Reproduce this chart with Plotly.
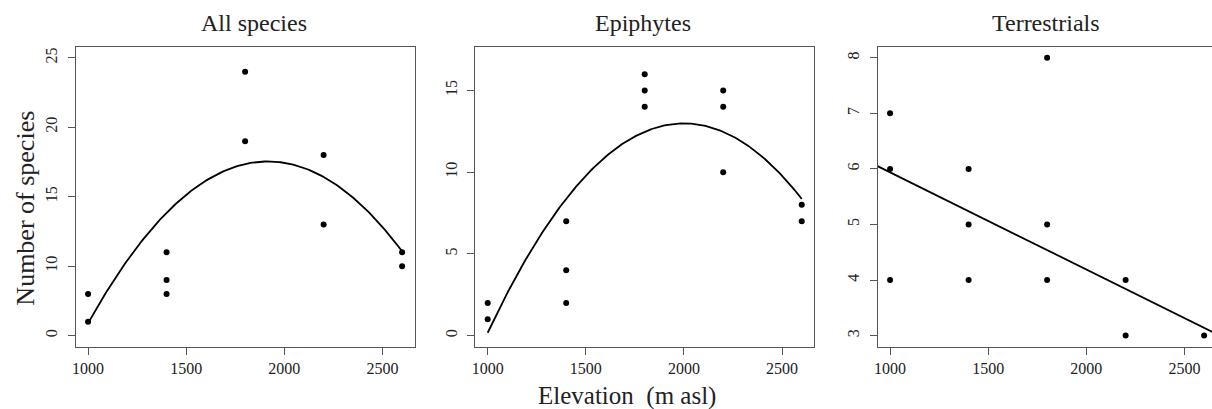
import numpy as np
import plotly.graph_objects as go

# ---------------- data ----------------
panel_titles = ["All species", "Epiphytes", "Terrestrials"]
y_title = "Number of species"
x_title = "Elevation  (m asl)"

all_x = [1000, 1000, 1400, 1400, 1400, 1800, 1800, 2200, 2200, 2600, 2600]
all_y = [8, 6, 11, 9, 8, 24, 19, 18, 13, 11, 10]

epi_x = [1000, 1000, 1400, 1400, 1400, 1800, 1800, 1800, 2200, 2200, 2200, 2600, 2600]
epi_y = [2, 1, 7, 4, 2, 16, 15, 14, 15, 14, 10, 8, 7]

ter_x = [1000, 1000, 1000, 1400, 1400, 1400, 1800, 1800, 1800, 2200, 2200, 2600]
ter_y = [7, 6, 4, 6, 5, 4, 8, 5, 4, 4, 3, 3]

# fitted models (coefficients)
# quadratic in u = (x - 1800) / 400 : y = c0 + c1*u + c2*u^2
all_fit = [17.35, 1.291, -2.218]
epi_fit = [12.475, 2.049, -2.051]
# straight line: y = a + b*x
ter_fit = [7.686, -0.001748]

x_ticks = [1000, 1500, 2000, 2500]
all_yticks = [5, 10, 15, 20, 25]
all_yticktext = ["0", "10", "15", "20", "25"]
epi_yticks = [0, 5, 10, 15]
ter_yticks = [3, 4, 5, 6, 7, 8]

# ---------------- figure ----------------
W, H = 1212, 409
FONT = "Liberation Serif"
AX = "#555555"
TXT = "#222222"

def quad(c, x):
    u = (np.asarray(x) - 1800) / 400.0
    return c[0] + c[1] * u + c[2] * u ** 2

xg = np.linspace(1000, 2600, 200)

fig = go.Figure()
mk = dict(color="black", size=6)
ln = dict(color="black", width=1.8)

fig.add_trace(go.Scatter(x=xg, y=quad(all_fit, xg), mode="lines", line=ln, xaxis="x", yaxis="y"))
fig.add_trace(go.Scatter(x=all_x, y=all_y, mode="markers", marker=mk, xaxis="x", yaxis="y"))

fig.add_trace(go.Scatter(x=xg, y=quad(epi_fit, xg), mode="lines", line=ln, xaxis="x2", yaxis="y2"))
fig.add_trace(go.Scatter(x=epi_x, y=epi_y, mode="markers", marker=mk, xaxis="x2", yaxis="y2"))

xl = np.array([936, 2664])
fig.add_trace(go.Scatter(x=xl, y=ter_fit[0] + ter_fit[1] * xl, mode="lines", line=ln,
                         xaxis="x3", yaxis="y3"))
fig.add_trace(go.Scatter(x=ter_x, y=ter_y, mode="markers", marker=mk, xaxis="x3", yaxis="y3"))

def px_x(p):
    return p / W

def px_y(p):
    return 1 - p / H

ydom = [px_y(346.7), px_y(46.7)]
tickfont = dict(family=FONT, size=16, color=TXT)

def xaxis(dom, anchor, rng, mirror=True):
    return dict(domain=dom, anchor=anchor, range=rng, tickvals=x_ticks,
                showline=True, linecolor=AX, linewidth=1, mirror=mirror,
                ticks="outside", ticklen=7, tickcolor=AX, tickwidth=1,
                showgrid=False, zeroline=False, tickfont=tickfont,
                ticklabelstandoff=0)

def yaxis(anchor, rng, vals, text=None, mirror=True):
    d = dict(domain=ydom, anchor=anchor, range=rng, tickvals=vals,
             showline=True, linecolor=AX, linewidth=1, mirror=mirror,
             ticks="outside", ticklen=7, tickcolor=AX, tickwidth=1,
             showgrid=False, zeroline=False, tickfont=tickfont, tickangle=-90,
             ticklabelstandoff=4)
    if text is not None:
        d["ticktext"] = text
    return d

x3_left = 876.7
x3_right_val = 936 + (W - x3_left) / (340.0 / 1728.0)

fig.update_layout(
    width=W, height=H,
    margin=dict(l=0, r=0, t=0, b=0),
    paper_bgcolor="white", plot_bgcolor="white",
    showlegend=False,
    xaxis=xaxis([px_x(72.7), px_x(412.7)], "y", [936, 2664]),
    yaxis=yaxis("x", [4.2, 25.8], all_yticks, all_yticktext),
    xaxis2=xaxis([px_x(473.3), px_x(813.3)], "y2", [936, 2664]),
    yaxis2=yaxis("x2", [-0.68, 17.68], epi_yticks),
    xaxis3=xaxis([px_x(x3_left), 1.0], "y3", [936, x3_right_val]),
    yaxis3=yaxis("x3", [2.8, 8.2], ter_yticks, mirror=False),
    font=dict(family=FONT, color=TXT),
)

title_pos = [251.7, 641.7, 1045.7]
for t, xp in zip(panel_titles, title_pos):
    fig.add_annotation(text=t, x=px_x(xp), y=px_y(23), xref="paper", yref="paper",
                       showarrow=False, font=dict(family=FONT, size=24, color=TXT),
                       xanchor="center", yanchor="middle")

fig.add_annotation(text=y_title, x=px_x(21.7), y=px_y(208), xref="paper", yref="paper",
                   showarrow=False, textangle=-90,
                   font=dict(family=FONT, size=26, color=TXT),
                   xanchor="center", yanchor="middle")
fig.add_annotation(text=x_title, x=px_x(626), y=px_y(396), xref="paper", yref="paper",
                   showarrow=False, font=dict(family=FONT, size=25, color=TXT),
                   xanchor="center", yanchor="middle")

fig.write_html("out.html", config={"displayModeBar": False},
               post_script="document.body.style.margin='0';")
